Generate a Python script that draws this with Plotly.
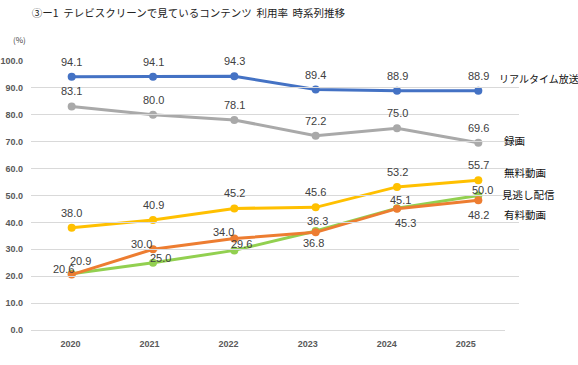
import plotly.graph_objects as go

years = ["2020", "2021", "2022", "2023", "2024", "2025"]
y_ticks = [0, 10, 20, 30, 40, 50, 60, 70, 80, 90, 100]

series_names = ["リアルタイム放送", "録画", "無料動画", "見逃し配信", "有料動画"]
realtime = [94.1, 94.1, 94.3, 89.4, 88.9, 88.9]
recorded = [83.1, 80.0, 78.1, 72.2, 75.0, 69.6]
free_video = [38.0, 40.9, 45.2, 45.6, 53.2, 55.7]
catchup = [20.9, 25.0, 29.6, 36.8, 45.3, 50.0]
paid_video = [20.6, 30.0, 34.0, 36.3, 45.1, 48.2]
values = [realtime, recorded, free_video, catchup, paid_video]

# styles
colors = ["#4472C4", "#A9A9A9", "#FFC000", "#92D050", "#ED7D31"]
# label offsets (px) per point: (dx, dy up)
up = [(0, 15)] * 6
label_offsets = [
    up,
    up,
    up,
    [(9, 13), (7, 5), (7, 6), (-2, -12), (8, -15), (4, 6)],
    [(-8, 6), (-12, 5), (-11, 7), (2, 11), (3, 9), (0, -15)],
]
# series name label positions: (x px, y value, font size)
name_pos = [(497, 93.6, 10), (502, 70.3, 10.5), (502, 58.5, 10.5),
            (500, 50.2, 10.5), (502, 42.8, 10.5)]

W, H = 578, 365
L, R, T, B = 31, 59.3, 61, 35
pw = W - L - R

fig = go.Figure()
xs = list(range(len(years)))
draw_order = [1, 0, 2, 3, 4]
for k in draw_order:
    fig.add_trace(go.Scatter(
        x=xs, y=values[k], mode="lines+markers", name=series_names[k],
        line=dict(color=colors[k], width=3),
        marker=dict(color=colors[k], size=8),
        hoverinfo="skip", showlegend=False,
    ))

# dummy trace for the category-label axis
fig.add_trace(go.Scatter(x=xs, y=[None] * len(xs), xaxis="x2", yaxis="y",
                         mode="markers", showlegend=False, hoverinfo="skip"))

annotations = []
for k in range(len(values)):
    for i, v in enumerate(values[k]):
        dx, dy = label_offsets[k][i]
        annotations.append(dict(
            x=i, y=v, xref="x", yref="y", text=f"{v:.1f}", showarrow=False,
            xshift=dx, yshift=dy,
            font=dict(family="Liberation Sans, Arial", size=11, color="#404040"),
        ))
    px, yv, fs = name_pos[k]
    annotations.append(dict(
        x=(px - L) / pw, y=yv, xref="paper", yref="y", text=series_names[k],
        showarrow=False, xanchor="left", yanchor="middle",
        font=dict(family="Noto Sans CJK JP", size=fs, color="#111111"),
    ))

annotations.append(dict(
    x=(19.5 - L) / pw, y=(330 - 39.3) / 269, xref="paper", yref="paper",
    text="(%)", showarrow=False, xanchor="center", yanchor="middle",
    font=dict(family="Noto Sans CJK JP", size=8, color="#404040"),
))

fig.update_layout(
    width=W, height=H,
    margin=dict(l=L, r=R, t=T, b=B, pad=0, autoexpand=False),
    paper_bgcolor="white", plot_bgcolor="rgba(0,0,0,0)",
    title=dict(
        text="③ー1  テレビスクリーンで見ているコンテンツ  利用率  時系列推移",
        x=31.7 / W, xanchor="left", y=1 - 13.3 / H, yanchor="middle",
        font=dict(family="Noto Sans CJK JP", size=10.5, color="#222222"),
    ),
    xaxis=dict(range=[-0.5, 5.5], domain=[0, 1], showticklabels=False,
               showgrid=False, zeroline=False, showline=False, automargin=False),
    xaxis2=dict(range=[-0.5, 5.5], domain=[0, (505 - L) / pw], anchor="y",
                tickmode="array", tickvals=xs, ticktext=years,
                showgrid=False, zeroline=False, showline=True,
                linecolor="#D9D9D9", linewidth=1, ticks="",
                ticklabelstandoff=5, automargin=False,
                tickfont=dict(family="Liberation Sans, Arial", size=9,
                              color="#595959", weight="bold")),
    yaxis=dict(range=[0, 100], tickmode="array", tickvals=y_ticks,
               ticktext=[f"{v:.1f}" for v in y_ticks],
               showgrid=True, gridcolor="#D9D9D9", gridwidth=1,
               zeroline=False, showline=False, ticks="",
               ticklabelstandoff=7, automargin=False,
               tickfont=dict(family="Liberation Sans, Arial", size=9,
                             color="#595959", weight="bold")),
    annotations=annotations,
)

fig.write_html("out.html", config={"displayModeBar": False},
               post_script="document.body.style.margin='0';")
